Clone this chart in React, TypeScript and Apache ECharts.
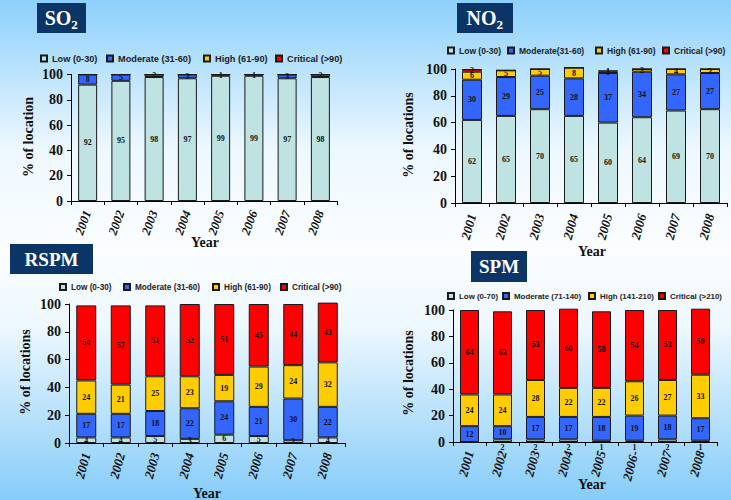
import React, { useEffect, useRef } from "react";
import * as echarts from "echarts";

const years = ["2001", "2002", "2003", "2004", "2005", "2006", "2007", "2008"];
const spmYears = ["2001", "2002", "2003", "2004", "2005", "2006-", "2007", "2008"];

const so2Names = ["Low (0-30)", "Moderate (31-60)", "High (61-90)", "Critical (>90)"];
const so2Low = [92, 95, 98, 97, 99, 99, 97, 98];
const so2Mod = [8, 5, 2, 3, 1, 1, 3, 2];
const so2High = [0, 0, 0, 0, 0, 0, 0, 0];
const so2Crit = [0, 0, 0, 0, 0, 0, 0, 0];

const no2Names = ["Low (0-30)", "Moderate(31-60)", "High (61-90)", "Critical (>90)"];
const no2Low = [62, 65, 70, 65, 60, 64, 69, 70];
const no2Mod = [30, 29, 25, 28, 37, 34, 27, 27];
const no2High = [6, 5, 5, 8, 1, 2, 4, 3];
const no2Crit = [2, 0, 0, 0, 1, 0, 0, 0];

const rspmNames = ["Low (0-30)", "Moderate (31-60)", "High (61-90)", "Critical (>90)"];
const rspmLow = [4, 4, 5, 3, 6, 5, 2, 4];
const rspmMod = [17, 17, 18, 22, 24, 21, 30, 22];
const rspmHigh = [24, 21, 25, 23, 19, 29, 24, 32];
const rspmCrit = [54, 57, 51, 52, 51, 45, 44, 43];

const spmNames = ["Low (0-70)", "Moderate (71-140)", "High (141-210)", "Critical (>210)"];
const spmLow = [0, 2, 2, 2, 1, 1, 2, 1];
const spmMod = [12, 10, 17, 17, 18, 19, 18, 17];
const spmHigh = [24, 24, 28, 22, 22, 26, 27, 33];
const spmCrit = [64, 63, 53, 60, 58, 54, 53, 50];

const yTicks = { min: 0, max: 100, interval: 20 };

const colors = ["#bfe3e3", "#3366ff", "#ffcc00", "#ff0000"];
const SERIF = "'Liberation Serif', 'Times New Roman', serif";
const SANS = "'Liberation Sans', Arial, sans-serif";

const panels = [
  {
    names: so2Names, data: [so2Low, so2Mod, so2High, so2Crit], cats: years,
    grid: { left: 71, top: 74.5, width: 266, height: 126.5 }, barWidth: 19,
    legendX: [40, 106, 203, 275], legendY: 59, legendFont: 9.2,
    labelMargin: 10, labelRotate: 70, labelFont: 12.5, lowBelow: false,
  },
  {
    names: no2Names, data: [no2Low, no2Mod, no2High, no2Crit], cats: years,
    grid: { left: 455, top: 69, width: 272, height: 134 }, barWidth: 20,
    legendX: [447, 507, 595, 662], legendY: 51, legendFont: 8.5,
    labelMargin: 11, labelRotate: 75, labelFont: 13, lowBelow: false,
  },
  {
    names: rspmNames, data: [rspmLow, rspmMod, rspmHigh, rspmCrit], cats: years,
    grid: { left: 69, top: 304, width: 276, height: 139 }, barWidth: 20,
    legendX: [59, 123, 212, 280], legendY: 288, legendFont: 8.2,
    labelMargin: 10, labelRotate: 75, labelFont: 13, lowBelow: false,
  },
  {
    names: spmNames, data: [spmLow, spmMod, spmHigh, spmCrit], cats: spmYears,
    grid: { left: 453, top: 310, width: 264, height: 132 }, barWidth: 19,
    legendX: [447, 502, 588, 658], legendY: 297, legendFont: 7.9,
    labelMargin: 9, labelRotate: 75, labelFont: 13, lowBelow: true,
  },
];

function titleBox(x: number, y: number, w: number, h: number, main: string, sub?: string) {
  const els: any[] = [
    { type: "rect", shape: { x, y, width: w, height: h }, style: { fill: "#0b3566" }, silent: true },
  ];
  if (sub) {
    const fs = 20;
    const est = main === "SO" ? 1.334 * fs : 1.5 * fs;
    const total = est + 7;
    const sx = x + w / 2 - total / 2;
    els.push({
      type: "text", x: sx, y: y + h / 2, silent: true,
      style: { text: main, fill: "#fff", font: `bold ${fs}px ${SERIF}`, textAlign: "left", textVerticalAlign: "middle" },
    });
    els.push({
      type: "text", x: sx + est, y: y + h / 2 + 6, silent: true,
      style: { text: sub, fill: "#fff", font: `bold 13px ${SERIF}`, textAlign: "left", textVerticalAlign: "middle" },
    });
  } else {
    els.push({
      type: "text", x: x + w / 2, y: y + h / 2, silent: true,
      style: { text: main, fill: "#fff", font: `bold 19px ${SERIF}`, textAlign: "center", textVerticalAlign: "middle" },
    });
  }
  return els;
}

function axisText(x: number, y: number, text: string, vertical: boolean) {
  return {
    type: "text", x, y, rotation: vertical ? Math.PI / 2 : 0, silent: true,
    style: { text, fill: "#111", font: `bold 14px ${SERIF}`, textAlign: "center", textVerticalAlign: "middle" },
  };
}

export default function App() {
  const ref = useRef<HTMLDivElement>(null);
  useEffect(() => {
    if (!ref.current) return;
    const chart = echarts.init(ref.current, undefined, { renderer: "svg" });
    const grids: any[] = [];
    const xAxes: any[] = [];
    const yAxes: any[] = [];
    const legends: any[] = [];
    const series: any[] = [];
    panels.forEach((p, i) => {
      grids.push({ ...p.grid, containLabel: false });
      xAxes.push({
        type: "category", gridIndex: i, data: p.cats,
        axisLine: { lineStyle: { color: "#000", width: 1 } },
        axisTick: { show: true, length: 4, lineStyle: { color: "#000" } },
        axisLabel: {
          interval: 0, rotate: p.labelRotate, margin: p.labelMargin, color: "#111",
          fontFamily: SERIF, fontWeight: "bold", fontStyle: "italic", fontSize: p.labelFont,
        },
        splitLine: { show: false },
      });
      yAxes.push({
        type: "value", gridIndex: i, ...yTicks,
        axisLine: { show: true, lineStyle: { color: "#000", width: 1 } },
        axisTick: { show: true, length: 4, lineStyle: { color: "#000" } },
        axisLabel: { margin: 8, color: "#111", fontFamily: SERIF, fontWeight: "bold", fontSize: 14 },
        splitLine: { show: false },
      });
      p.names.forEach((name, k) => {
        legends.push({
          left: p.legendX[k], top: p.legendY - 5, orient: "horizontal", padding: 0,
          itemWidth: 6, itemHeight: 6, icon: "rect", data: [name], selectedMode: false, width: 200,
          textStyle: { fontFamily: SANS, fontWeight: "bold", fontSize: p.legendFont, color: "#222" },
        });
        const below = p.lowBelow && k === 0;
        series.push({
          type: "bar", name, stack: "s" + i, xAxisIndex: i, yAxisIndex: i,
          data: p.data[k], barWidth: p.barWidth, clip: false,
          itemStyle: { color: colors[k], borderColor: "#1a1a1a", borderWidth: 1 },
          label: {
            show: true, position: below ? "bottom" : "inside", distance: 1,
            color: "#111", fontFamily: SERIF, fontWeight: "bold", fontSize: 8,
            formatter: (q: any) => (q.value > 0 ? String(q.value) : ""),
          },
          emphasis: { disabled: true },
        });
      });
    });
    chart.setOption({
      animation: false,
      backgroundColor: {
        type: "linear", x: 0, y: 0, x2: 0, y2: 1,
        colorStops: [
          { offset: 0, color: "#8dd0fb" },
          { offset: 0.3, color: "#eef8ff" },
          { offset: 0.5, color: "#fbfdff" },
          { offset: 0.65, color: "#eef8ff" },
          { offset: 1, color: "#86ccf9" },
        ],
      },
      grid: grids, xAxis: xAxes, yAxis: yAxes, legend: legends, series,
      graphic: [
        ...titleBox(37, 3, 49, 30, "SO", "2"),
        ...titleBox(457, 3, 56, 30, "NO", "2"),
        ...titleBox(10, 244, 83, 30, "RSPM"),
        ...titleBox(471, 251, 56, 31, "SPM"),
        axisText(28, 137, "% of location", true),
        axisText(205, 242, "Year", false),
        axisText(408, 135, "% of locations", true),
        axisText(592, 251, "Year", false),
        axisText(25, 372, "% of locations", true),
        axisText(207, 493, "Year", false),
        axisText(408, 373, "% of locations", true),
        axisText(592, 484, "Year", false),
      ],
    });
    return () => chart.dispose();
  }, []);
  return <div ref={ref} style={{ position: "fixed", left: 0, top: 0, width: 731, height: 500 }} />;
}
